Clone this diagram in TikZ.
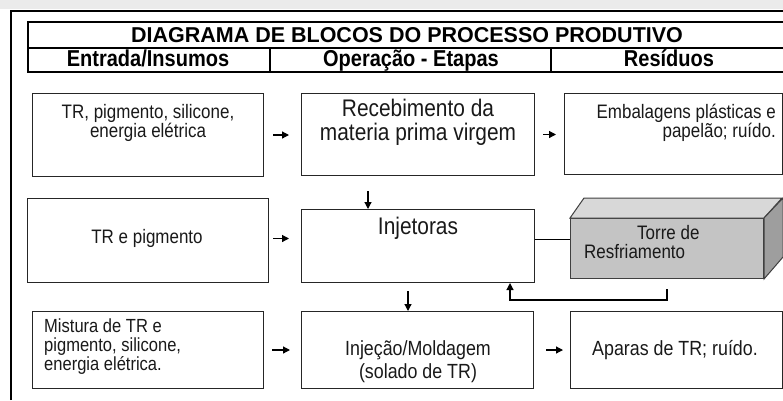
\documentclass[tikz,border=0pt]{standalone}
\usepackage{fontspec}
\setmainfont{Liberation Sans}[FakeStretch=0.87]
\newfontfamily\largo{Liberation Sans}
\usetikzlibrary{arrows.meta}

\definecolor{frente}{HTML}{C4C4C4}
\definecolor{topo}{HTML}{D8D8D8}
\definecolor{lado}{HTML}{9E9E9E}

\begin{document}
\begin{tikzpicture}[x=1pt,y=-1pt,
  box/.style={draw=black!85, line width=1pt, anchor=north west, inner sep=0pt},
  txt/.style={align=center, text=black!90, inner sep=0pt, font=\fontsize{19.5}{19}\selectfont},
  cab/.style={anchor=base, inner sep=0pt, font=\fontsize{23}{24}\selectfont\bfseries},
  seta/.style={-{Triangle[length=7pt,width=7pt]}, line width=1.2pt},
  liga/.style={line width=1pt}]
\useasboundingbox (0,0) rectangle (783,400);
\fill[black!8] (0,0) rectangle (783,9);
% moldura e cabecalho
\draw[line width=2.5pt] (11,400) -- (11,11) -- (783,11);
\draw[line width=1.2pt] (783,22) -- (28,22) -- (28,72) -- (783,72);
\draw[line width=1.2pt] (28,48) -- (783,48);
\draw[line width=1.2pt] (270,48) -- (270,72);
\draw[line width=1.2pt] (551,48) -- (551,72);
\node[cab, font=\largo\fontsize{21.5}{23}\selectfont\bfseries] (titulo) at (407,42) {DIAGRAMA DE BLOCOS DO PROCESSO PRODUTIVO};
\node[cab] (entrada) at (148,66) {Entrada/Insumos};
\node[cab] (operacao) at (411,66) {Operação - Etapas};
\node[cab] (residuos) at (669,66) {Resíduos};
% linha 1
\node[box, minimum width=231pt, minimum height=83pt] (ent1) at (32,93) {};
\node[box, minimum width=233pt, minimum height=82pt] (rec) at (301,93) {};
\node[box, minimum width=218pt, minimum height=81pt] (res1) at (564,93) {};
\node[txt] (ent1t) at (148,123) {TR, pigmento, silicone,\\energia elétrica};
\node[txt, font=\fontsize{24}{24}\selectfont] (rect) at (418,122) {Recebimento da\\materia prima virgem};
\node[txt, align=right, anchor=east] (res1t) at (776,123) {Embalagens plásticas e\\papelão; ruído.};
% linha 2
\node[box, minimum width=241pt, minimum height=84pt] (ent2) at (27,198) {};
\node[box, minimum width=233pt, minimum height=73pt] (inj) at (301,209) {};
\node[box, fill=frente, draw=black!75, minimum width=193pt, minimum height=60pt] (torre) at (570,218) {};
\draw[fill=topo, draw=black!75, line width=1pt] (torre.north west) -- ++(14,-20) -- ++(198,0) -- (torre.north east) -- cycle;
\draw[fill=lado, draw=black!75, line width=1pt] (torre.north east) -- ++(19,-20) -- ++(0,59) -- (torre.south east) -- cycle;
\node[txt] (ent2t) at (147,238) {TR e pigmento};
\node[txt, font=\fontsize{24}{24}\selectfont] (injt) at (418,228) {Injetoras};
\node[txt, align=left, anchor=west] (torret) at (584,242) {\hspace*{53pt}Torre de\\Resfriamento};
% linha 3
\node[box, minimum width=231pt, minimum height=77pt] (ent3) at (32,311) {};
\node[box, minimum width=232pt, minimum height=77pt] (mold) at (301,311) {};
\node[box, minimum width=212pt, minimum height=77pt] (res3) at (570,311) {};
\node[txt, align=left, anchor=west, font=\fontsize{19}{19}\selectfont] (ent3t) at (44,347) {Mistura de TR e\\pigmento, silicone,\\energia elétrica.};
\node[txt, font=\fontsize{20.5}{23}\selectfont] (moldt) at (418,362) {Injeção/Moldagem\\(solado de TR)};
\node[txt, font=\fontsize{20.5}{20}\selectfont] (res3t) at (675,350) {Aparas de TR; ruído.};
% setas
\draw[seta, shorten <=9pt, shorten >=12pt] (ent1.east) -- (ent1.east -| rec.west);
\draw[seta, shorten <=8pt, shorten >=8pt] (rec.east) -- (rec.east -| res1.west);
\draw[seta, shorten <=4pt, shorten >=12pt] ([yshift=2pt]ent2.east) -- ([yshift=2pt]ent2.east -| inj.west);
\draw[seta, shorten <=8pt, shorten >=11pt] (ent3.east) -- (ent3.east -| mold.west);
\draw[seta, shorten <=12pt, shorten >=7pt] (mold.east) -- (mold.east -| res3.west);
\draw[seta, shorten <=15pt] ([xshift=67pt]rec.south west) -- ([xshift=67pt]inj.north west);
\draw[seta, shorten <=8pt] ([xshift=107pt]inj.south west) -- ([xshift=107pt]mold.north west);
\draw[liga] ([yshift=7pt]inj.east) -- ([yshift=7pt]inj.east -| torre.west);
\coordinate (volta) at (510,300);
\draw[seta, shorten <=10pt] ([xshift=97pt]torre.south west) -- ([xshift=97pt]torre.south west |- volta) -- (volta) -- (volta |- inj.south);
\end{tikzpicture}
\end{document}
